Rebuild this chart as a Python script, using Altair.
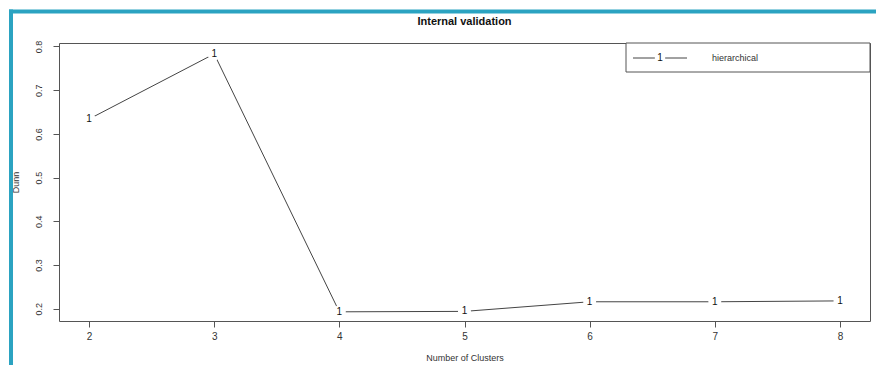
import altair as alt
import pandas as pd

# Dunn index per number of clusters (hierarchical clustering)
clusters = [2, 3, 4, 5, 6, 7, 8]
dunn = [0.634, 0.783, 0.193, 0.194, 0.216, 0.216, 0.218]
point_labels = ["1", "1", "1", "1", "1", "1", "1"]
y_ticks = [0.2, 0.3, 0.4, 0.5, 0.6, 0.7, 0.8]
x_ticks = [2, 3, 4, 5, 6, 7, 8]
legend_label = "hierarchical"
chart_title = "Internal validation"

df = pd.DataFrame({"clusters": clusters, "dunn": dunn, "pch": point_labels})

W, H = 811, 278
FONT = "Liberation Sans"
INK = "#333333"
TEAL = "#2ba3c1"

x_enc = alt.X(
    "clusters:Q",
    scale=alt.Scale(domain=[1.76, 8.24], nice=False, zero=False),
    axis=alt.Axis(
        values=x_ticks, title="Number of Clusters", grid=False, domain=False,
        tickSize=6, tickColor="#555555", labelPadding=4, labelFontSize=10,
        labelColor=INK, titleFontSize=9, titleFontWeight="normal",
        titleColor=INK, titlePadding=12, labelFont=FONT, titleFont=FONT,
    ),
)
y_enc = alt.Y(
    "dunn:Q",
    scale=alt.Scale(domain=[0.172, 0.808], nice=False, zero=False),
    axis=alt.Axis(
        values=y_ticks, format=".1f", title="Dunn", grid=False, domain=False,
        tickSize=6, tickColor="#555555", labelAngle=-90, labelAlign="center",
        labelBaseline="bottom", labelPadding=10, labelFontSize=9,
        labelColor=INK, titleFontSize=9, titleFontWeight="normal",
        titleColor=INK, titlePadding=14, labelFont=FONT, titleFont=FONT,
    ),
)

base = alt.Chart(df).encode(x=x_enc, y=y_enc)

line = base.mark_line(color="#444444", strokeWidth=1)
# white blanks break the line around each symbol, like R's type = "b"
gaps = base.mark_point(filled=True, color="white", opacity=1, size=170, shape="circle")
symbols = base.mark_text(font=FONT, fontSize=10, color="#111111").encode(text="pch:N")

# legend box in the top-right corner
legend_df = pd.DataFrame({"name": [legend_label], "title": [chart_title]})
legend_box = alt.Chart(legend_df).mark_rect(
    fill="white", stroke="#555555", strokeWidth=1
).encode(x=alt.value(567), x2=alt.value(W), y=alt.value(0), y2=alt.value(29))
legend_line = alt.Chart(legend_df).mark_rule(color="#444444", strokeWidth=1).encode(
    x=alt.value(574), x2=alt.value(628), y=alt.value(15)
)
legend_gap = alt.Chart(legend_df).mark_point(
    filled=True, color="white", opacity=1, size=110
).encode(x=alt.value(601), y=alt.value(15))
legend_sym = alt.Chart(legend_df).mark_text(
    font=FONT, fontSize=10, color="#111111"
).encode(x=alt.value(601), y=alt.value(15), text=alt.value("1"))
legend_text = alt.Chart(legend_df).mark_text(
    font=FONT, fontSize=9, color=INK, align="left"
).encode(x=alt.value(653), y=alt.value(15), text="name:N")

# main title, centred over the plot
title_text = alt.Chart(legend_df).mark_text(
    font=FONT, fontSize=11, fontWeight="bold", color="#111111", align="center"
).encode(x=alt.value(W / 2), y=alt.value(-21), text="title:N")

# teal frame along the top and left edges of the page
frame_top = alt.Chart(legend_df).mark_rule(color=TEAL, strokeWidth=4).encode(
    x=alt.value(-50), x2=alt.value(820), y=alt.value(-31.5)
)
frame_left = alt.Chart(legend_df).mark_rule(color=TEAL, strokeWidth=4).encode(
    x=alt.value(-48), y=alt.value(-33.5), y2=alt.value(330)
)

chart = alt.layer(
    line, gaps, symbols,
    legend_box, legend_line, legend_gap, legend_sym, legend_text,
    title_text, frame_top, frame_left,
).properties(
    width=W, height=H,
    background="white",
    autosize=alt.AutoSizeParams(type="none"),
    padding={"left": 59, "top": 43, "right": 6, "bottom": 44},
).configure_view(
    stroke="#555555", strokeWidth=1
)

chart.save("out.html", embed_options={"renderer": "svg", "actions": False})
